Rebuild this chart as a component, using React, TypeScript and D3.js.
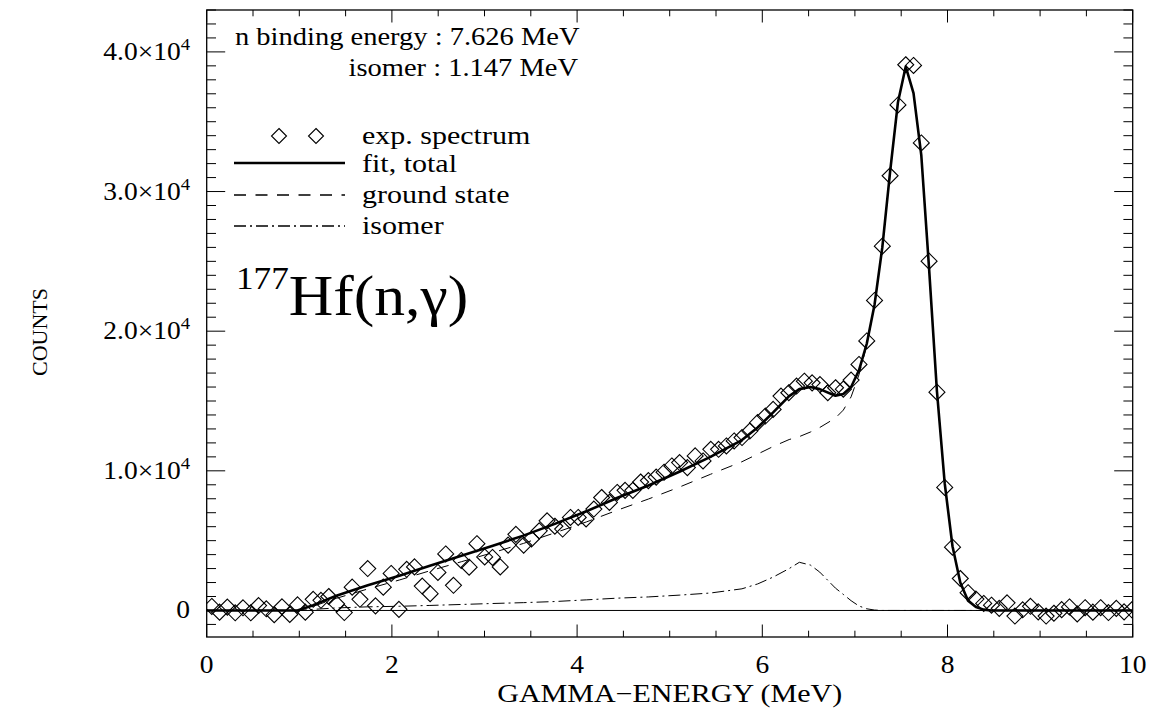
import React from "react";
import * as d3 from "d3";

// ---- data ----
const energy = [
  0.055, 0.139, 0.223, 0.308, 0.392, 0.476, 0.56, 0.644, 0.729, 0.813,
  0.897, 0.981, 1.065, 1.15, 1.234, 1.318, 1.402, 1.486, 1.571, 1.655,
  1.739, 1.823, 1.907, 1.992, 2.076, 2.16, 2.244, 2.328, 2.413, 2.497,
  2.581, 2.665, 2.749, 2.834, 2.918, 3.002, 3.086, 3.17, 3.255, 3.339,
  3.423, 3.507, 3.591, 3.676, 3.76, 3.844, 3.928, 4.012, 4.097, 4.181,
  4.265, 4.349, 4.433, 4.518, 4.602, 4.686, 4.77, 4.854, 4.939, 5.023,
  5.107, 5.191, 5.275, 5.36, 5.444, 5.528, 5.612, 5.696, 5.781, 5.865,
  5.949, 6.033, 6.117, 6.202, 6.286, 6.37, 6.454, 6.538, 6.623, 6.707,
  6.791, 6.875, 6.959, 7.044, 7.128, 7.212, 7.296, 7.38, 7.465, 7.549,
  7.633, 7.717, 7.801, 7.886, 7.97, 8.054, 8.138, 8.222, 8.307, 8.391,
  8.475, 8.559, 8.643, 8.728, 8.812, 8.896, 8.98, 9.065, 9.149, 9.233,
  9.317, 9.401, 9.486, 9.57, 9.654, 9.738, 9.823, 9.907, 9.991,
];
const counts = [
  290, -120, 240, -170, 190, -170, 350, 120, -300, 260,
  -280, 400, -120, 800, 730, 1000, 480, -150, 1670, 800,
  3000, 330, 1670, 2650, 80, 2950, 3120, 1750, 1200, 2720,
  4050, 1800, 3580, 3100, 4780, 3830, 3800, 3120, 4680, 5450,
  4680, 5120, 5700, 6420, 6030, 5830, 6660, 6660, 6550, 7260,
  8090, 7740, 8450, 8600, 8600, 9200, 9300, 9550, 9900, 10350,
  10590, 10230, 11070, 10710, 11540, 11540, 11780, 12140, 12380, 12850,
  13450, 13920, 14400, 15350, 15590, 16070, 16420, 16300, 16180, 15590,
  15950, 15850, 16500, 17620, 19300, 22200, 26090, 31130, 36200, 39080,
  39030, 33480, 25010, 15630, 8810, 4530, 2290, 1270, 820, 500,
  380, 150, 550, -400, 50, 300, -100, -400, -200, 60,
  250, -250, 200, -120, 200, -150, 150, -100, 50,
];

const fitEnergy = [
  0, 0.98, 1.15, 1.4, 1.74, 2.08, 2.41, 2.75, 3.09, 3.42,
  3.76, 4.1, 4.43, 4.77, 5.11, 5.44, 5.78, 5.95, 6.12, 6.29,
  6.4, 6.52, 6.62, 6.79, 6.875, 6.959, 7.044, 7.128, 7.212, 7.296,
  7.38, 7.465, 7.549, 7.633, 7.717, 7.801, 7.886, 7.97, 8.054, 8.138,
  8.222, 8.307, 8.391, 8.475, 10,
];
const fitTotal = [
  0, 0, 380, 1050, 1800, 2480, 3200, 3920, 4640, 5360,
  6200, 7100, 8050, 8950, 9950, 11000, 12200, 13100, 14200, 15350,
  15850, 16000, 15850, 15380, 15500, 16000, 17200, 19100, 21900, 26000,
  31400, 36400, 38950, 37050, 32600, 24500, 15700, 9100, 4600, 2000,
  700, 250, 60, 0, 0,
];
const fitGround = [
  0, 0, 300, 870, 1540, 2180, 2840, 3490, 4140, 4800,
  5560, 6340, 7170, 7980, 8850, 9750, 10650, 11200, 11750, 12240,
  12450, 12780, 13100, 13780, 14350, 15300, 16880, 18980, 21870, 26000,
  31400, 36400, 38950, 37050, 32600, 24500, 15700, 9100, 4600, 2000,
  700, 250, 60, 0, 0,
];
const fitIsomer = [
  0, 0, 80, 180, 260, 300, 360, 430, 500, 560,
  640, 760, 880, 970, 1100, 1250, 1550, 1900, 2400, 3000,
  3450, 3250, 2750, 1600, 1150, 700, 320, 120, 30, 0,
  0, 0, 0, 0, 0, 0, 0, 0, 0, 0,
  0, 0, 0, 0, 0,
];

const xTicks = [0, 2, 4, 6, 8, 10];
const xTickLabels = ["0", "2", "4", "6", "8", "10"];
const yTicks = [0, 10000, 20000, 30000, 40000];
const yTickMantissa = ["0", "1.0", "2.0", "3.0", "4.0"];
const yTickExponent = ["", "4", "4", "4", "4"];

const legendItems = ["exp. spectrum", "fit, total", "ground state", "isomer"];

// ---- layout ----
const W = 1162;
const H = 708;
const L = 206.7;
const R = 1132.7;
const T = 10;
const B = 637;
const FONT = "'Liberation Serif', 'Times New Roman', serif";
const SX = 1.1;

export default function App() {
  const x = d3.scaleLinear().domain([0, 10]).range([L, R]);
  const y = d3.scaleLinear().domain([-1900, 43000]).range([B, T]);

  const line = (vals: number[]) =>
    d3
      .line<number>()
      .x((_, i) => x(fitEnergy[i]))
      .y((v) => y(v))
      .curve(d3.curveLinear)(vals) as string;

  const xMinor = d3.range(0, 10.001, 0.5);
  const yMinor = d3.range(-1000, 43001, 1000);
  const xMajLen = 12.5;
  const xMinLen = 6.3;
  const yMajLen = 18.5;
  const yMinLen = 9.3;

  const txt = (
    s: React.ReactNode,
    tx: number,
    ty: number,
    size: number,
    anchor: "start" | "middle" | "end" = "start",
    key?: string,
    sx: number = SX
  ) => (
    <text
      key={key}
      transform={`translate(${tx},${ty}) scale(${sx},1)`}
      fontFamily={FONT}
      fontSize={size}
      textAnchor={anchor}
      fill="#000"
    >
      {s}
    </text>
  );

  const diamond = (cx: number, cy: number, key: string, r = 8) => (
    <path
      key={key}
      d={`M${cx},${cy - r}L${cx + r},${cy}L${cx},${cy + r}L${cx - r},${cy}Z`}
      fill="none"
      stroke="#000"
      strokeWidth={1.1}
    />
  );

  return (
    <svg width={W} height={H} style={{ display: "block", position: "absolute", left: 0, top: 0, background: "#fff" }}>
      <rect x={0} y={0} width={W} height={H} fill="#fff" />
      <defs>
        <clipPath id="plotClip">
          <rect x={L} y={T} width={R - L} height={B - T} />
        </clipPath>
      </defs>

      {/* ticks */}
      <g stroke="#000" strokeWidth={1}>
        {xMinor.map((v, i) => {
          const major = Math.abs(v - Math.round(v / 2) * 2) < 1e-6;
          const len = major ? xMajLen : xMinLen;
          return (
            <g key={"xt" + i}>
              <line x1={x(v)} x2={x(v)} y1={B} y2={B - len} />
              <line x1={x(v)} x2={x(v)} y1={T} y2={T + len} />
            </g>
          );
        })}
        {yMinor.map((v, i) => {
          const major = v % 10000 === 0;
          const len = major ? yMajLen : yMinLen;
          return (
            <g key={"yt" + i}>
              <line x1={L} x2={L + len} y1={y(v)} y2={y(v)} />
              <line x1={R} x2={R - len} y1={y(v)} y2={y(v)} />
            </g>
          );
        })}
      </g>

      {/* curves */}
      <g clipPath="url(#plotClip)">
        <line x1={L} x2={R} y1={y(0)} y2={y(0)} stroke="#000" strokeWidth={1} />
        <path d={line(fitIsomer)} fill="none" stroke="#000" strokeWidth={1} strokeDasharray="12,4,2,4" />
        <path d={line(fitGround)} fill="none" stroke="#000" strokeWidth={1} strokeDasharray="12,9.5" />
        <path d={line(fitTotal)} fill="none" stroke="#000" strokeWidth={2.6} strokeLinejoin="round" />
        {energy.map((e, i) => diamond(x(e), y(counts[i]), "d" + i))}
      </g>

      {/* frame */}
      <rect x={L} y={T} width={R - L} height={B - T} fill="none" stroke="#000" strokeWidth={1.3} />

      {/* tick labels */}
      {xTicks.map((v, i) => txt(xTickLabels[i], x(v), 673, 25, "middle", "xl" + i))}
      {yTicks.map((v, i) =>
        txt(
          yTickExponent[i] ? (
            <>
              {yTickMantissa[i] + "\u00d710"}
              <tspan fontSize={17} dy={-10}>
                {yTickExponent[i]}
              </tspan>
            </>
          ) : (
            yTickMantissa[i]
          ),
          190,
          y(v) + 8,
          25,
          "end",
          "yl" + i
        )
      )}

      {/* axis titles */}
      {txt("GAMMA\u2212ENERGY (MeV)", (L + R) / 2, 702, 25, "middle", "xtitle", 1.2)}
      <text
        transform={`translate(47,332) rotate(-90) scale(${SX},1)`}
        fontFamily={FONT}
        fontSize={20}
        textAnchor="middle"
      >
        COUNTS
      </text>

      {/* annotations */}
      {txt("n binding energy : 7.626 MeV", 235, 45, 25, "start", "a1", 1.14)}
      {txt("isomer : 1.147 MeV", 578, 76, 25, "end", "a2", 1.14)}

      {/* legend */}
      {diamond(279, 136, "ld1", 7.5)}
      {diamond(316, 136, "ld2", 7.5)}
      {txt(legendItems[0], 362, 144, 25, "start", "l0", 1.2)}
      <line x1={234} x2={345} y1={163} y2={163} stroke="#000" strokeWidth={2.4} />
      {txt(legendItems[1], 362, 172, 25, "start", "l1", 1.2)}
      <line x1={234} x2={345} y1={195} y2={195} stroke="#000" strokeWidth={1.3} strokeDasharray="12,9.5" />
      {txt(legendItems[2], 362, 203, 25, "start", "l2", 1.2)}
      <line x1={234} x2={345} y1={226} y2={226} stroke="#000" strokeWidth={1.3} strokeDasharray="12,4,2,4" />
      {txt(legendItems[3], 362, 234, 25, "start", "l3", 1.2)}

      {/* reaction label */}
      <text transform={`translate(236,315) scale(${SX},1)`} fontFamily={FONT} fill="#000">
        <tspan fontSize={32} dy={-26}>177</tspan>
        <tspan fontSize={56} dy={26}>Hf(n,γ)</tspan>
      </text>
    </svg>
  );
}
